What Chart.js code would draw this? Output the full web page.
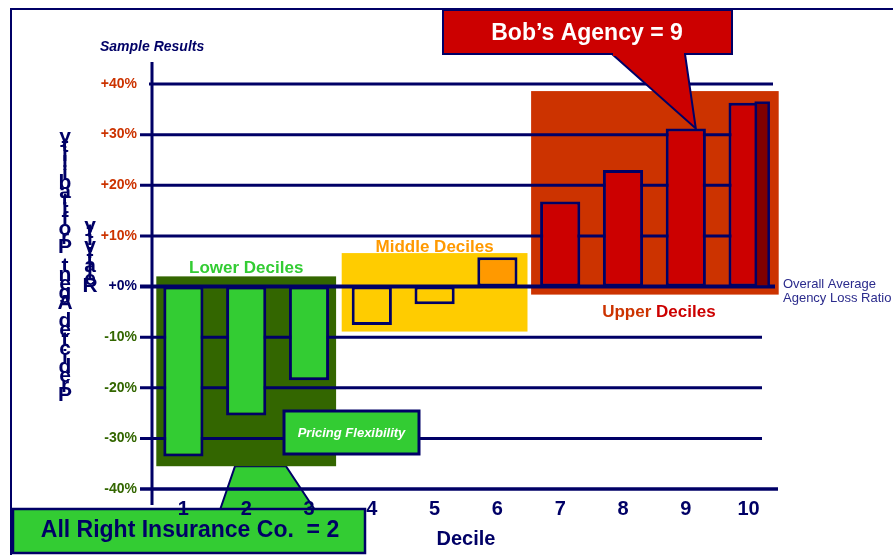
<!DOCTYPE html>
<html><head><meta charset="utf-8">
<script src="https://cdn.jsdelivr.net/npm/chart.js@4.4.1/dist/chart.umd.min.js"></script>
<style>html,body{margin:0;padding:0;background:#fff;overflow:hidden}#wrap{width:893px;height:555px;position:relative}</style>
</head><body><div id="wrap"><canvas id="c" width="893" height="555"></canvas></div>
<script>
// ---- data ----
const deciles = ['1','2','3','4','5','6','7','8','9','10'];
const lossRatioVsAverage = [-33.6, -25.5, -18.5, -7.6, -3.5, 5.8, 16.8, 23.0, 31.2, 36.3];
const barColors = ['#33cc33','#33cc33','#33cc33','#ffcc00','#ffcc00','#ff9900','#cc0000','#cc0000','#cc0000','#cc0000'];
const yTickValues = [-40,-30,-20,-10,0,10,20,30,40];
const groupLabels = ['Lower Deciles','Middle Deciles','Upper Deciles'];
const yTitleMain = 'Predicted Agent Profitability';
const yTitleSub = 'Relativity';
const bobLabel = 'Bob’s Agency = 9';
const allRightLabel = 'All Right Insurance Co.  = 2';
const pricingLabel = 'Pricing Flexibility';
const sampleLabel = 'Sample Results';
const averageLabel = ['Overall Average','Agency Loss Ratio'];

const NAVY = '#000066';
const FONT = '"Liberation Sans", Arial, sans-serif';

function rect(ctx, x0, y0, x1, y1, fill, stroke, lw){
  ctx.save();
  ctx.fillStyle = fill; ctx.fillRect(x0, y0, x1-x0, y1-y0);
  if (stroke){ ctx.strokeStyle = stroke; ctx.lineWidth = lw; ctx.strokeRect(x0, y0, x1-x0, y1-y0); }
  ctx.restore();
}
function line(ctx, x0, y0, x1, y1, w, color){
  ctx.save(); ctx.strokeStyle = color || NAVY; ctx.lineWidth = w;
  ctx.beginPath(); ctx.moveTo(x0,y0); ctx.lineTo(x1,y1); ctx.stroke(); ctx.restore();
}
function text(ctx, s, x, y, font, color, align){
  ctx.save(); ctx.font = font; ctx.fillStyle = color; ctx.textAlign = align || 'center'; ctx.textBaseline = 'middle';
  ctx.fillText(s, x, y); ctx.restore();
}
function poly(ctx, pts, fill, stroke, lw){
  ctx.save(); ctx.beginPath(); ctx.moveTo(pts[0][0], pts[0][1]);
  for (let i=1;i<pts.length;i++) ctx.lineTo(pts[i][0], pts[i][1]);
  ctx.closePath(); ctx.fillStyle = fill; ctx.fill();
  if (stroke){ ctx.strokeStyle = stroke; ctx.lineWidth = lw; ctx.lineJoin='miter'; ctx.stroke(); }
  ctx.restore();
}

const decor = {
  id: 'decor',
  beforeDraw(chart){
    // All Right callout sits beneath the axis line and tick labels
    const ctx = chart.ctx, ys = chart.scales.y;
    const yTop = ys.getPixelForValue(-35.5);
    poly(ctx, [[235, yTop], [286, yTop], [315, 510], [220, 510]], '#33cc33', NAVY, 2);
    rect(ctx, 13, 509, 365, 553, '#33cc33', NAVY, 2.5);
    text(ctx, allRightLabel, 190, 531, 'bold 23px ' + FONT, NAVY);
  },
  beforeDatasetsDraw(chart){
    const ctx = chart.ctx, ys = chart.scales.y, ca = chart.chartArea;
    const bars = chart.getDatasetMeta(0).data;
    const half = bars[0].width/2;
    // group boxes
    const lower = {x0: bars[0].x-half-7, x1: bars[2].x+half+7, y0: ys.getPixelForValue(2), y1: ys.getPixelForValue(-35.5)};
    const middle = {x0: bars[3].x-half-10, x1: bars[5].x+half+10, y0: ys.getPixelForValue(6.6), y1: ys.getPixelForValue(-8.9)};
    const upper = {x0: bars[6].x-half-9, x1: bars[9].x+half+10, y0: ys.getPixelForValue(38.6), y1: ys.getPixelForValue(-1.6)};
    rect(ctx, lower.x0, lower.y0, lower.x1, lower.y1, '#336600');
    rect(ctx, middle.x0, middle.y0, middle.x1, middle.y1, '#ffcc00');
    rect(ctx, upper.x0, upper.y0, upper.x1, upper.y1, '#cc3300');
    const lf = 'bold 17px ' + FONT;
    text(ctx, groupLabels[0], (lower.x0+lower.x1)/2, lower.y0-8, lf, '#33cc33');
    text(ctx, groupLabels[1], (middle.x0+middle.x1)/2, middle.y0-6, lf, '#ff9900');
    // Upper Deciles in two tones
    ctx.save(); ctx.font = lf;
    const parts = groupLabels[2].split(' ');
    const w1 = ctx.measureText(parts[0]+' ').width, w2 = ctx.measureText(parts[1]).width;
    const ux = (upper.x0+upper.x1)/2 + 4 - (w1+w2)/2, uy = upper.y1+18;
    ctx.restore();
    text(ctx, parts[0]+' ', ux, uy, lf, '#cc3300', 'left');
    text(ctx, parts[1], ux+w1, uy, lf, '#cc0000', 'left');
    // gridlines
    yTickValues.forEach(v => {
      const y = ys.getPixelForValue(v);
      let x0 = ca.left-12, x1 = ca.right-18, w = 3;
      if (v === 40){ x0 = ca.left-3; x1 = ca.right-7; }
      if (v === 0){ x1 = ca.right-5; w = 4; }
      if (v === -40){ x1 = ca.right-2; w = 3.5; }
      line(ctx, x0, y, x1, y, w);
    });
    // y axis line
    line(ctx, ca.left, ca.top-22, ca.left, ca.bottom+16, 3);
  },
  afterDatasetsDraw(chart){
    const ctx = chart.ctx;
    const bars = chart.getDatasetMeta(0).data;
    // dark side of bar 10
    const b = bars[9];
    const bx1 = b.x + b.width/2, bx0 = bx1 - b.width*0.32;
    rect(ctx, bx0, b.y, bx1, b.base, '#800000', NAVY, 2.5);
    // Pricing Flexibility box
    rect(ctx, 284, 411, 419, 454, '#33cc33', NAVY, 3);
    text(ctx, pricingLabel, 351.5, 433, 'italic bold 13px ' + FONT, '#ffffff');
    // Bob pointer + box
    const b9 = bars[8];
    poly(ctx, [[612, 54], [685, 54], [b9.x+10, b9.y]], '#cc0000', NAVY, 2);
    rect(ctx, 443, 10, 732, 54, '#cc0000', NAVY, 2);
    ctx.save(); ctx.fillStyle = '#cc0000'; ctx.fillRect(613, 52, 71, 4); ctx.restore();
    text(ctx, bobLabel, 587, 34, 'bold 23px ' + FONT, '#ffffff');
    // Sample Results
    text(ctx, sampleLabel, 100, 47, 'italic bold 14px ' + FONT, NAVY, 'left');
    // Overall average label
    text(ctx, averageLabel[0], 783, 284, '13px ' + FONT, '#2b2b8c', 'left');
    text(ctx, averageLabel[1], 783, 298, '13px ' + FONT, '#2b2b8c', 'left');
    // stacked y title characters
    const main = yTitleMain.split('').reverse();
    const y0 = 137, y1 = 395, step = (y1-y0)/(main.length-1);
    main.forEach((ch, i) => text(ctx, ch, 65, y0 + i*step, 'bold 21px ' + FONT, NAVY));
    const sub = yTitleSub.split('').reverse();
    const s0 = 226, s1 = 286, st = (s1-s0)/(sub.length-1);
    sub.forEach((ch, i) => text(ctx, ch, 90, s0 + i*st, 'bold 21px ' + FONT, NAVY));
    // frame
    line(ctx, 10, 9, 893, 9, 2);
    line(ctx, 11, 8, 11, 555, 2);
  }
};

new Chart(document.getElementById('c'), {
  type: 'bar',
  data: {
    labels: deciles,
    datasets: [{
      data: lossRatioVsAverage,
      backgroundColor: barColors,
      borderColor: NAVY,
      borderWidth: 3,
      borderSkipped: false,
      barPercentage: 0.64,
      categoryPercentage: 1
    }]
  },
  options: {
    responsive: false,
    animation: false,
    layout: { padding: { top: 84, right: 113, bottom: 0, left: 0 } },
    plugins: { legend: { display: false }, tooltip: { enabled: false } },
    scales: {
      x: {
        grid: { display: false, drawTicks: false },
        border: { display: false },
        ticks: { color: NAVY, font: { family: FONT, size: 20, weight: 'bold' }, padding: 8, maxRotation: 0 },
        title: { display: true, text: 'Decile', color: NAVY, font: { family: FONT, size: 20, weight: 'bold' }, padding: { top: 0, bottom: 4 } },
        afterFit(s){ s.height = 66; }
      },
      y: {
        min: -40, max: 40,
        grid: { display: false, drawTicks: false },
        border: { display: false },
        ticks: {
          stepSize: 10,
          padding: 15,
          font: { family: FONT, size: 14, weight: 'bold' },
          color: c => c.tick.value > 0 ? '#cc3300' : (c.tick.value < 0 ? '#336600' : NAVY),
          callback: v => (v >= 0 ? '+' : '') + v + '%'
        },
        afterFit(s){ s.width = 152; }
      }
    }
  },
  plugins: [decor]
});
</script>
</body></html>
